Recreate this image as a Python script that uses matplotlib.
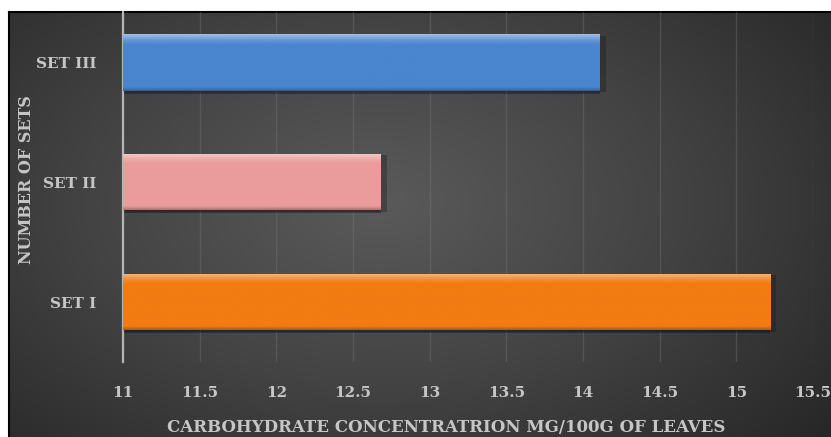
import matplotlib.pyplot as plt
import matplotlib.colors as mcolors
import numpy as np

sets = ['SET I', 'SET II', 'SET III']
carbs = [15.22, 12.68, 14.11]
bar_colors = ['#f27b12', '#e99c9b', '#4a85cf']
x_ticks = [11, 11.5, 12, 12.5, 13, 13.5, 14, 14.5, 15, 15.5]
x_tick_labels = ['11', '11.5', '12', '12.5', '13', '13.5', '14', '14.5', '15', '15.5']

W, H = 831, 437
fig = plt.figure(figsize=(W / 100, H / 100), dpi=100)
fig.patch.set_facecolor('white')

# dark panel with a soft radial glow
bg = fig.add_axes([9 / W, 0, 1 - 9 / W, (H - 12) / H])
gx, gy = np.meshgrid(np.linspace(0, 1, 400), np.linspace(0, 1, 220))
r = np.sqrt(((gx - 0.45) / 0.75) ** 2 + ((gy - 0.55) / 0.9) ** 2)
r = np.clip(r, 0, 1)
panel_cmap = mcolors.LinearSegmentedColormap.from_list('panel', ['#5a5a5a', '#434343', '#272727'])
bg.imshow(r, cmap=panel_cmap, aspect='auto', extent=[0, 1, 0, 1], origin='lower')
bg.set_xticks([])
bg.set_yticks([])
for s in bg.spines.values():
    s.set_color('black')
    s.set_linewidth(1.5)
bg.spines['right'].set_visible(False)
bg.spines['bottom'].set_visible(False)

ax = fig.add_axes([123 / W, (H - 362) / H, 690 / W, 350 / H])
ax.patch.set_alpha(0)
ax.set_xlim(11, 15.5)
ax.set_ylim(-0.5, 2.42)

pos = np.arange(len(sets))
bh = 0.47


def lighten(c, amt):
    c = np.array(mcolors.to_rgb(c))
    return tuple(c + (1 - c) * amt)


def darken(c, amt):
    c = np.array(mcolors.to_rgb(c))
    return tuple(c * (1 - amt))


for y, v, c in zip(pos, carbs, bar_colors):
    # drop shadow
    ax.barh(y - 0.025, v - 11, left=11, height=bh, color='black', alpha=0.3, zorder=2)
    ax.barh(y - 0.012, v - 11 + 0.04, left=11, height=bh, color='#1a1a1a', alpha=0.35, zorder=2)
    bar = ax.barh(y, v - 11, left=11, height=bh, color=c, zorder=3)[0]
    # bevel: bright top edge, darker bottom edge
    grad = mcolors.LinearSegmentedColormap.from_list(
        'g', [darken(c, 0.25), c, c, lighten(c, 0.15), lighten(c, 0.45)])
    ramp = np.interp(np.linspace(0, 1, 60), [0, 0.06, 0.82, 0.9, 1.0], [0, 0.25, 0.5, 0.75, 1.0])[:, None]
    im = ax.imshow(ramp, cmap=grad, aspect='auto', origin='lower',
                   extent=[11, v, y - bh / 2, y + bh / 2], zorder=4)
    im.set_clip_path(bar)

ax.set_xticks(x_ticks)
ax.set_xticklabels(x_tick_labels)
ax.set_yticks(pos)
ax.set_yticklabels(sets)
ax.tick_params(axis='both', length=0, colors='#c6c6c6')
ax.tick_params(axis='x', pad=17)
ax.tick_params(axis='y', pad=19)
for lab in ax.get_xticklabels() + ax.get_yticklabels():
    lab.set_fontfamily('DejaVu Serif')
    lab.set_fontweight('bold')
    lab.set_fontsize(11)

ax.xaxis.grid(True, color='#7a7a7a', linewidth=1, alpha=0.35, zorder=0)
ax.set_axisbelow(True)
for s in ['top', 'right', 'bottom']:
    ax.spines[s].set_visible(False)
ax.spines['left'].set_color('#b5b5b5')
ax.spines['left'].set_linewidth(1.6)

fig.text(446 / W, 1 - 428 / H, 'CARBOHYDRATE CONCENTRATRION MG/100G OF LEAVES',
         ha='center', va='center', color='#c6c6c6', fontsize=12,
         fontfamily='DejaVu Serif', fontweight='bold')
fig.text(27 / W, 1 - 180 / H, 'NUMBER OF SETS', rotation=90,
         ha='center', va='center', color='#c6c6c6', fontsize=11.5,
         fontfamily='DejaVu Serif', fontweight='bold')

fig.savefig('out.png', dpi=100)
